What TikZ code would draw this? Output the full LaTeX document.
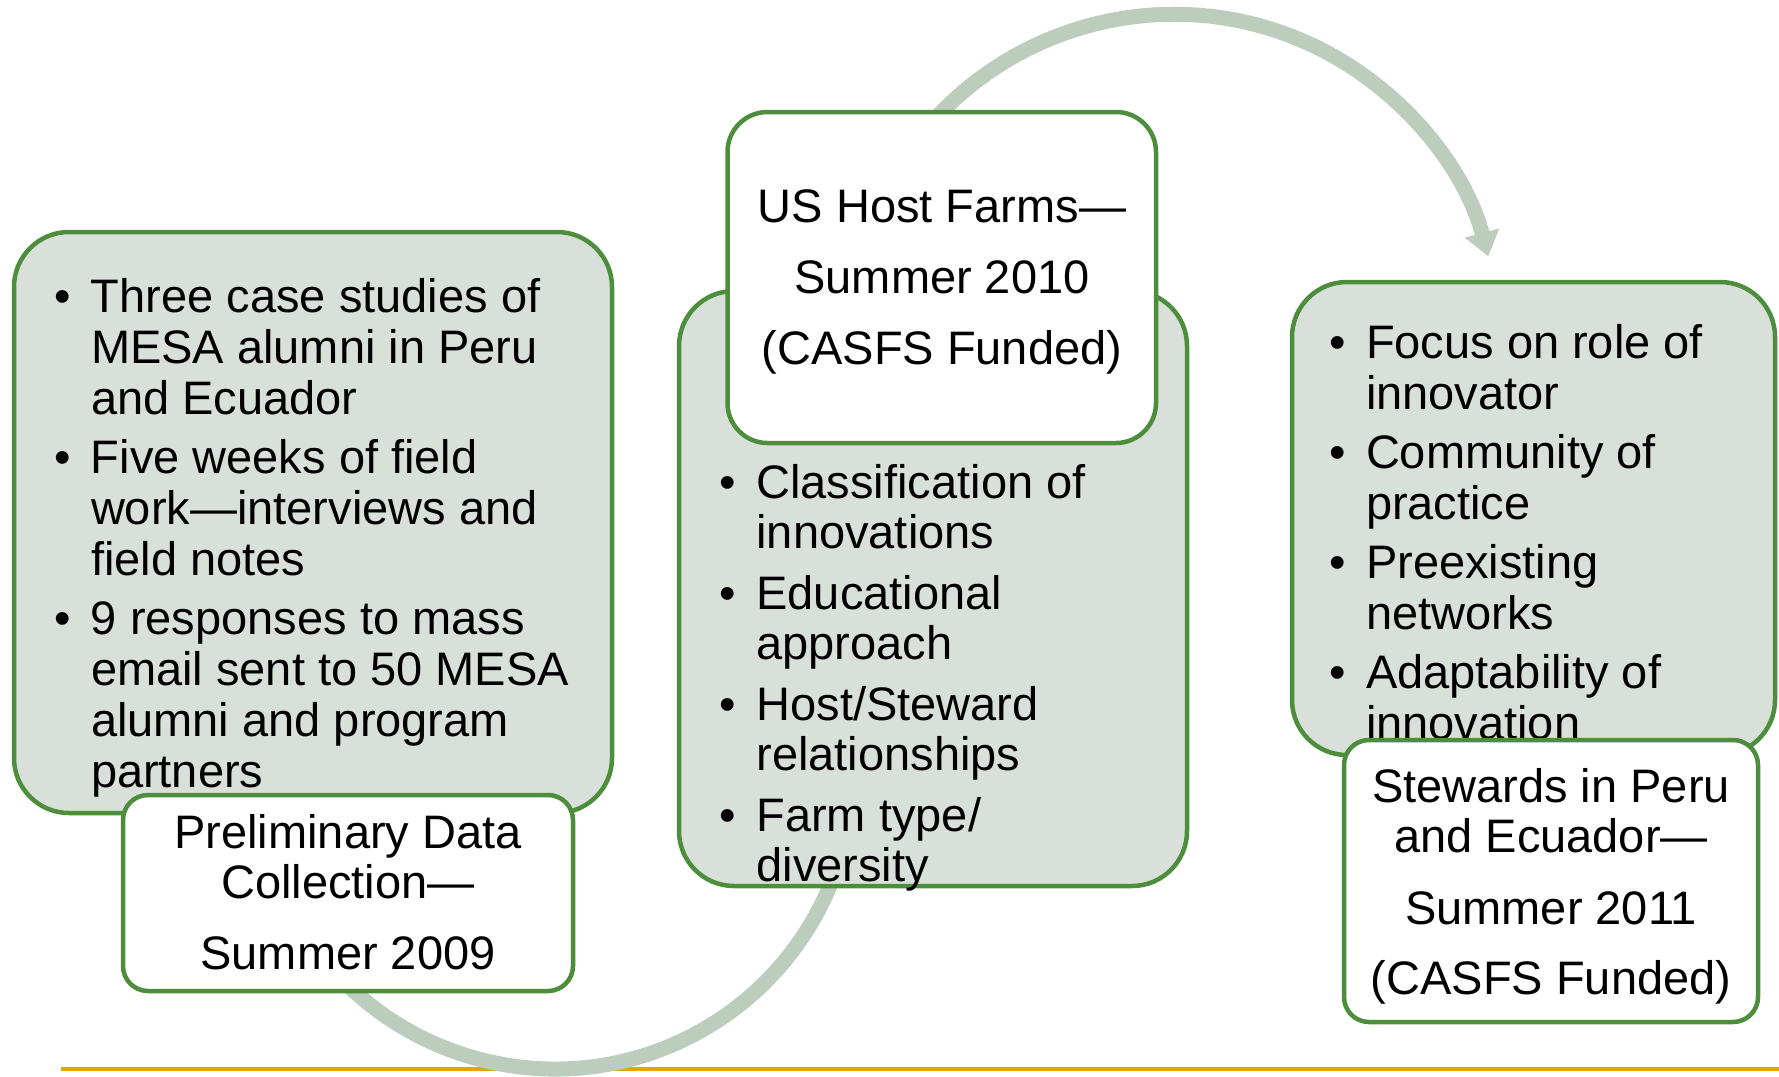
\documentclass[tikz,border=0pt]{standalone}
\usepackage{fontspec}
\setmainfont{Liberation Sans}
\usetikzlibrary{arrows.meta}
\definecolor{boxfill}{RGB}{217,224,217}
\definecolor{boxline}{RGB}{76,142,60}
\definecolor{arcc}{RGB}{188,204,189}
\definecolor{rulec}{RGB}{217,170,0}
\newcommand{\bitem}[1]{\par\hangindent=37pt\hangafter=1\noindent\makebox[37pt][l]{•}#1\par}
\newcommand{\bulletblock}[4]{\vtop{\hsize=#1\parindent=0pt\parskip=#3\fontsize{47pt}{#2}\selectfont #4}}
\newcommand{\labelblock}[2]{\vtop{\hsize=#1\parindent=0pt\centering\fontsize{47pt}{50pt}\selectfont #2\par}}
\tikzset{
  gbox/.style={draw=boxline, fill=boxfill, line width=4.5pt, rounded corners=55pt, inner sep=0pt},
  lbox/.style={draw=boxline, fill=white, line width=4.5pt, rounded corners=#1, inner sep=0pt},
  lbox/.default=25pt,
  txt/.style={inner sep=0pt, outer sep=0pt},
  arcline/.style={draw=arcc, line width=15pt}
}
\begin{document}
\begin{tikzpicture}[x=1pt,y=-1pt]
\useasboundingbox (0,0) rectangle (1779,1076);
% bottom rule
\coordinate (r1) at (61,1069);
\coordinate (r2) at (1779,1069);
\draw[rulec, line width=3.7pt] (r1) -- (r2);
% arcs
\coordinate (c1) at (555,771);
\coordinate (c2) at (1174,339.3);
\draw[arcline] ([shift={(150:298)}]c1) arc[start angle=150, end angle=0, radius=298];
\draw[arcline, -{Triangle[width=34pt,length=24pt]}] ([shift={(-150:325)}]c2) arc[start angle=-150, end angle=-14.8, radius=325];
% left group
\node[gbox, minimum width=598pt, minimum height=581pt] (b1) at (313,522.5) {};
\node[txt, anchor=base west] (t1) at (54,312) {\bulletblock{560pt}{51pt}{8pt}{%
\bitem{Three case studies of\newline MESA alumni in Peru\newline and Ecuador}
\bitem{Five weeks of field\newline work—interviews and\newline field notes}
\bitem{9 responses to mass\newline email sent to 50 MESA\newline alumni and program\newline partners}}};
\node[lbox, minimum width=450pt, minimum height=196pt] (l1) at (348,893) {};
\node[txt, anchor=base] (lt1) at (348,848) {\labelblock{440pt}{Preliminary Data\\Collection—\\[21pt]Summer 2009}};
% middle group
\node[gbox, minimum width=508pt, minimum height=595pt] (b2) at (933,588.5) {};
\node[txt, anchor=base west] (t2) at (719.5,498) {\bulletblock{460pt}{50.5pt}{10pt}{%
\bitem{Classification of\newline innovations}
\bitem{Educational\newline approach}
\bitem{Host/Steward\newline relationships}
\bitem{Farm type/\newline diversity}}};
\node[lbox=40pt, minimum width=428.5pt, minimum height=331pt] (l2) at (941.75,277.5) {};
\node[txt, anchor=base] (lt2) at (942,222) {\labelblock{420pt}{US Host Farms—\\[21.5pt]Summer 2010\\[21pt](CASFS Funded)}};
% right group
\node[gbox, minimum width=483pt, minimum height=473pt] (b3) at (1533.5,518.5) {};
\node[txt, anchor=base west] (t3) at (1329,358) {\bulletblock{440pt}{51.5pt}{7pt}{%
\bitem{Focus on role of\newline innovator}
\bitem{Community of\newline practice}
\bitem{Preexisting\newline networks}
\bitem{Adaptability of\newline innovation}}};
\node[lbox, minimum width=414pt, minimum height=282pt] (l3) at (1551,881) {};
\node[txt, anchor=base] (lt3) at (1551,802) {\labelblock{410pt}{Stewards in Peru\\and Ecuador—\\[22pt]Summer 2011\\[20pt](CASFS Funded)}};
\end{tikzpicture}
\end{document}
